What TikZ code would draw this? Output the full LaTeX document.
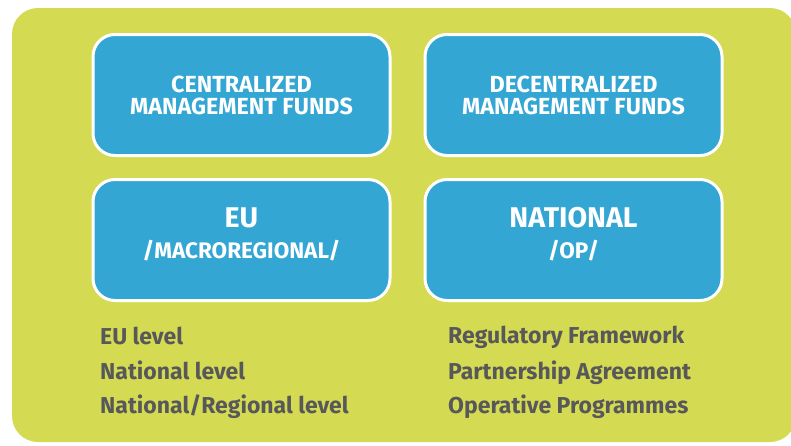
\documentclass[tikz,border=0pt]{standalone}
\usepackage{fontspec}
\setmainfont{Fira Sans}
\definecolor{bggreen}{HTML}{D4DB52}
\definecolor{boxblue}{HTML}{33A6D3}
\definecolor{txtgray}{HTML}{58585A}
\begin{document}
\begin{tikzpicture}[x=1pt,y=-1pt,
  fundbox/.style={draw=white,line width=3pt,fill=boxblue,rounded corners=22pt,
    minimum width=297pt,minimum height=121pt,inner sep=0pt},
  boxtext/.style={anchor=base,text=white,inner sep=0pt,font=\bfseries\fontsize{23.3}{23}\selectfont},
  bigtext/.style={boxtext,font=\bfseries\fontsize{28.5}{28}\selectfont},
  subtext/.style={boxtext,font=\bfseries\fontsize{22.5}{22}\selectfont},
  infotext/.style={anchor=base west,text=txtgray,font=\bfseries\fontsize{23}{23}\selectfont,inner sep=0pt}]
\useasboundingbox (0,0) rectangle (791,445);
\fill[bggreen,rounded corners=26pt] (12,8) rectangle (796,442);
\node[fundbox] (cent) at (241.5,95) {};
\node[fundbox] (decent) at (573.5,95) {};
\node[fundbox] (eu) at (241.5,240) {};
\node[fundbox] (nat) at (573.5,240) {};
\node[boxtext] (cent1) at (241.5,92) {CENTRALIZED};
\node[boxtext] (cent2) at (241.5,114) {MANAGEMENT FUNDS};
\node[boxtext] (decent1) at (573.5,92) {DECENTRALIZED};
\node[boxtext] (decent2) at (573.5,114) {MANAGEMENT FUNDS};
\node[bigtext] (eu1) at (241.5,227) {EU};
\node[subtext] (eu2) at (241.5,258) {/MACROREGIONAL/};
\node[bigtext] (nat1) at (573.5,227) {NATIONAL};
\node[subtext] (nat2) at (573.5,258) {/OP/};
\node[infotext] (l1) at (100,344) {EU level};
\node[infotext] (l2) at (100,379) {National level};
\node[infotext] (l3) at (100,413) {National/Regional level};
\node[infotext] (r1) at (448,343) {Regulatory Framework};
\node[infotext] (r2) at (448,379) {Partnership Agreement};
\node[infotext] (r3) at (448,413) {Operative Programmes};
\end{tikzpicture}
\end{document}
